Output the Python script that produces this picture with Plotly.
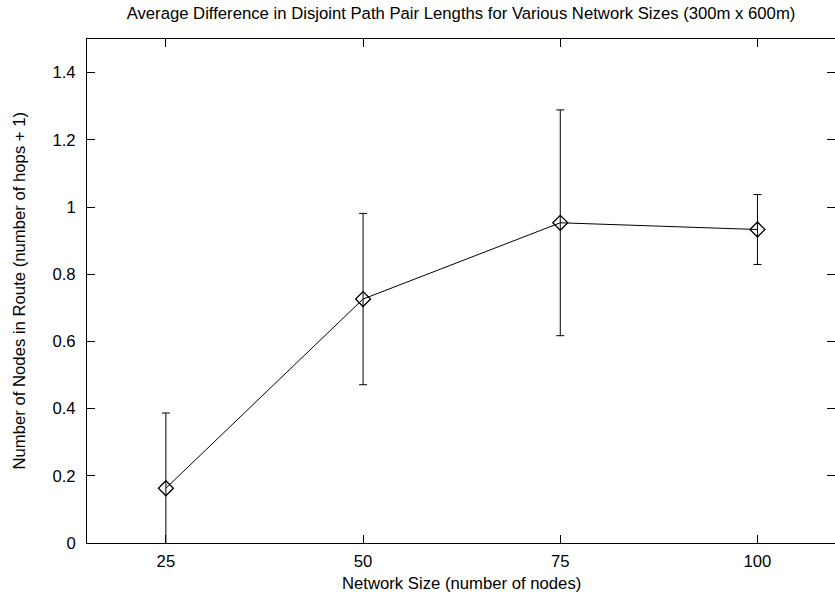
import plotly.graph_objects as go

network_sizes = [25, 50, 75, 100]
avg_difference = [0.163, 0.726, 0.953, 0.933]
std_error = [0.224, 0.255, 0.336, 0.104]

x_ticks = [25, 50, 75, 100]
y_ticks = [0, 0.2, 0.4, 0.6, 0.8, 1, 1.2, 1.4]
y_tick_labels = ["0", "0.2", "0.4", "0.6", "0.8", "1", "1.2", "1.4"]

title_text = "Average Difference in Disjoint Path Pair Lengths for Various Network Sizes (300m x 600m)"
x_title = "Network Size (number of nodes)"
y_title = "Number of Nodes in Route (number of hops + 1)"

FONT = "Liberation Sans, Arial, Helvetica, sans-serif"
FS = 16.7

fig = go.Figure()
fig.add_trace(go.Scatter(
    x=network_sizes,
    y=avg_difference,
    mode="lines+markers",
    line=dict(color="black", width=1),
    marker=dict(symbol="diamond-open", size=11.5, color="black",
                line=dict(color="black", width=1.3)),
    error_y=dict(type="data", array=std_error, visible=True,
                 color="black", thickness=1, width=4),
    showlegend=False,
))

fig.update_layout(
    width=835, height=596,
    margin=dict(l=87, r=0, t=39, b=53),
    paper_bgcolor="white", plot_bgcolor="white",
    font=dict(family=FONT, size=FS, color="black"),
    title=dict(text=title_text, x=0.5, xref="paper", xanchor="center",
               y=1 - 13.5 / 596, yanchor="middle", font=dict(size=FS)),
    xaxis=dict(
        range=[15, 109.83], tickvals=x_ticks, ticktext=[str(v) for v in x_ticks],
        ticks="inside", ticklen=8, tickcolor="black", tickwidth=1,
        showline=True, linecolor="black", linewidth=1, mirror="ticks",
        showgrid=False, zeroline=False, ticklabelstandoff=3,
    ),
    yaxis=dict(
        range=[0, 1.5], tickvals=y_ticks, ticktext=y_tick_labels,
        ticks="inside", ticklen=8, tickcolor="black", tickwidth=1,
        showline=True, linecolor="black", linewidth=1, mirror="ticks",
        showgrid=False, zeroline=False, ticklabelstandoff=7,
    ),
    annotations=[
        dict(text=x_title, xref="paper", yref="paper", x=0.5, y=0,
             xanchor="center", yanchor="middle", yshift=-40, showarrow=False,
             font=dict(size=FS)),
        dict(text=y_title, xref="paper", yref="paper", x=0, y=0.5,
             xanchor="center", yanchor="middle", xshift=-68.5, textangle=-90,
             showarrow=False, font=dict(size=FS)),
    ],
)

fig.write_html("out.html")
